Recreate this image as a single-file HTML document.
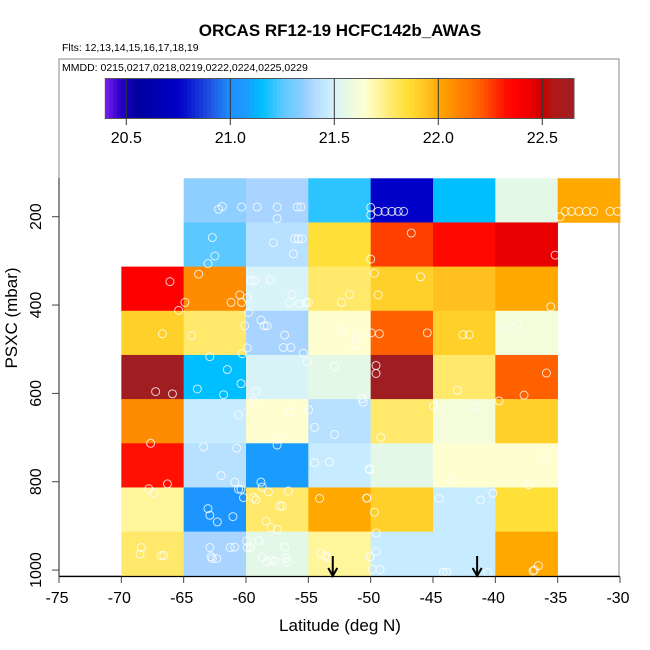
<!DOCTYPE html>
<html><head><meta charset="utf-8"><style>
html,body{margin:0;padding:0;background:#fff}
svg{display:block;font-family:"Liberation Sans",Arial,sans-serif}
</style></head><body>
<svg id="chart" width="650" height="650" viewBox="0 0 650 650" xmlns="http://www.w3.org/2000/svg">
<text x="340" y="36" text-anchor="middle" font-size="17" font-weight="bold">ORCAS RF12-19 HCFC142b_AWAS</text>
<text x="62" y="51" font-size="10.5">Flts: 12,13,14,15,16,17,18,19</text>
<rect x="59" y="59" width="560" height="517" fill="none" stroke="#888" stroke-width="1"/>
<text x="62" y="71" font-size="10.5">MMDD: 0215,0217,0218,0219,0222,0224,0225,0229</text>
<g id="colorbar"></g>
<g id="cells"></g>
<g id="points"></g>
<g id="arrows"></g>
<g id="axes"></g>
<text x="340" y="631" text-anchor="middle" font-size="17">Latitude (deg N)</text>
<text transform="translate(17,318) rotate(-90)" text-anchor="middle" font-size="17">PSXC (mbar)</text>
</svg>
<script>
const latEdges = [-70,-65,-60,-55,-50,-45,-40,-35,-30];
const presTops = [113,213,313,413,513,613,713,813,913];
const cellValues = [
 [null,21.35,21.38,21.2,20.75,21.15,21.55,22.0],
 [null,21.25,21.42,21.85,22.25,22.35,22.45,null],
 [22.38,22.08,21.5,21.78,21.9,21.95,22.0,null],
 [21.9,21.78,21.38,21.65,22.2,21.9,21.6,null],
 [22.65,21.15,21.5,21.55,22.65,21.78,22.2,null],
 [22.08,21.47,21.65,21.42,21.78,21.6,21.9,null],
 [22.32,21.42,21.08,21.47,21.55,21.65,21.65,null],
 [21.72,21.03,21.78,22.0,21.9,21.47,21.85,null],
 [21.78,21.38,21.55,21.72,21.47,21.47,22.0,null]
];
const pointLat = [-62.2,-61.9,-60.35,-59.1,-57.5,-55.9,-55.6,-57.5,-62.7,-62.5,-63.05,-57.8,-56.1,-55.8,-55.5,-56.2,-66.1,-63.8,-64.9,-65.4,-60.5,-61.2,-60.35,-59.9,-59.6,-59.3,-58.05,-56.3,-56.5,-55.7,-55.2,-55.0,-51.7,-52.35,-59.8,-58.8,-58.55,-58.3,-60.1,-56.9,-57.0,-56.4,-59.9,-64.36,-66.7,-52.35,-51.15,-51.2,-55.4,-55.1,-60.3,-62.9,-61.5,-60.4,-63.9,-61.8,-67.25,-65.9,-59.2,-59.4,-52.9,-50.7,-50.6,-60.6,-56.5,-54.97,-54.5,-52.9,-57.5,-57.5,-63.4,-60.75,-67.65,-62.0,-60.9,-66.3,-67.8,-67.4,-58.8,-58.7,-60.6,-60.4,-58.2,-56.6,-60.2,-59.4,-59.2,-54.5,-53.3,-54.1,-50.3,-63.05,-62.9,-62.3,-61.05,-58.4,-58.0,-57.5,-57.3,-57.1,-59.95,-58.96,-56.9,-62.9,-61.26,-60.9,-59.9,-59.65,-68.4,-68.5,-66.8,-66.6,-62.8,-62.7,-62.35,-58.7,-58.3,-58.0,-57.7,-56.8,-56.7,-54.0,-53.66,-53.45,-50.1,-50.05,
-50.0,-49.4,-48.85,-48.3,-47.78,-47.35,-50.0,-46.74,-50.0,-49.7,-46.0,-49.4,-35.56,-49.95,-49.3,-45.46,-42.6,-42.1,-39.25,-38.2,-49.57,-49.57,-35.9,-37.7,-43.05,-44.95,-41.6,-39.7,-49.2,-50.08,-36.18,-37.33,-43.48,-44.5,-41.2,-40.2,-50.32,-49.7,-49.55,-49.57,-50.05,-49.87,-49.25,-44.17,-43.88,-40.6,-36.98,-36.55,-36.87,-34.4,-33.9,-33.3,-32.7,-32.1,-30.8,-30.2,-34.8,-35.2];
const pointPres = [183,177,178,178,178,178,178,204,247,289,306,259,250,250,250,284,347,330,394,412,377,394,394,384,345,345,343,376,394,397,394,394,376,394,417,434,447,447,447,468,496,496,497,469,465,459,472,490,509,528,510,517,546,578,590,603,596,601,595,617,539,612,620,649,642,637,677,693,704,717,721,724,713,786,801,805,816,826,801,812,817,817,823,821,836,836,841,757,755,838,837,861,876,891,879,889,904,908,855,855,934,933,948,949,949,948,949,949,949,964,967,967,970,974,974,971,981,978,980,973,982,962,968,971,771,970,
179,188,188,188,188,188,196,237,296,328,336,377,404,463,465,463,467,467,453,444,537,555,554,604,593,629,631,617,700,773,747,807,796,838,841,826,837,869,916,958,970,998,999,1005,1005,1005,1002,990,1000,188,188,188,188,188,188,188,200,287];
const arrowLat = [-53.04,-41.46];
const xTicks = [-75,-70,-65,-60,-55,-50,-45,-40,-35,-30];
const yTicks = [200,400,600,800,1000];
const cbTicks = [20.5,21.0,21.5,22.0,22.5];
const cmapVals = [20.399,20.47,20.55,20.75,20.9,21.0,21.08,21.15,21.2,21.25,21.35,21.38,21.42,21.47,21.5,21.55,21.6,21.65,21.72,21.78,21.85,21.9,21.95,22.0,22.08,22.2,22.25,22.32,22.38,22.45,22.5,22.55,22.652];
const cmapCols = ["#7a1ff0","#2800c8","#00009c","#0000c8","#2050e0","#1e90ff","#1a9cff","#00bfff","#2cc4ff","#5bc8ff","#8fcfff","#a8d4ff","#b8e0ff","#c8ecff","#d8f4f8","#e4f8e8","#f4fcdc","#fefed0","#fff59a","#ffe86a","#ffe038","#ffd02a","#ffc020","#ffa800","#ff8c00","#ff6000","#ff4000","#ff1000","#ff0000","#e80000","#c80000","#b01818","#a01e22"];

const NS="http://www.w3.org/2000/svg";
const xS = v => 59 + (v + 75) * 561/45;
const yS = p => 216.7 + (p - 200) * 0.4417;
const cbS = v => 126.3 + (v - 20.5) * 208;
function hex(c){return [1,3,5].map(i=>parseInt(c.substr(i,2),16));}
function cmap(v){
  if(v<=cmapVals[0]) return cmapCols[0];
  for(let i=1;i<cmapVals.length;i++){
    if(v<=cmapVals[i]){
      const t=(v-cmapVals[i-1])/(cmapVals[i]-cmapVals[i-1]);
      const a=hex(cmapCols[i-1]),b=hex(cmapCols[i]);
      return "rgb("+a.map((x,k)=>Math.round(x+(b[k]-x)*t)).join(",")+")";
    }
  }
  return cmapCols[cmapCols.length-1];
}
function mk(tag,attrs,parent){const e=document.createElementNS(NS,tag);for(const k in attrs)e.setAttribute(k,attrs[k]);parent.appendChild(e);return e;}

// colorbar
const cb=document.getElementById('colorbar');
const vmin=cmapVals[0], vmax=cmapVals[cmapVals.length-1];
for(let i=0;i<120;i++){
  const v0=vmin+(vmax-vmin)*i/120, v1=vmin+(vmax-vmin)*(i+1)/120;
  const r=mk('rect',{x:cbS(v0),y:78.5,width:cbS(v1)-cbS(v0)+0.6,height:40,fill:cmap((v0+v1)/2)},cb);
  
  
}
const cbr=mk('rect',{x:cbS(vmin),y:78.5,width:cbS(vmax)-cbS(vmin),height:40,fill:'none',stroke:'#555','stroke-width':1},cb);


cbTicks.forEach(t=>{
  const l=mk('line',{x1:cbS(t),x2:cbS(t),y1:78.5,y2:125,stroke:'#333','stroke-width':1},cb);
  
  
  const tx=mk('text',{x:cbS(t),y:143,'text-anchor':'middle','font-size':16},cb);
  
  
  tx.textContent=t.toFixed(1);
});

// cells
const cg=document.getElementById('cells');
cellValues.forEach((row,r)=>{
  row.forEach((v,c)=>{
    if(v===null) return;
    const x0=xS(latEdges[c]), x1=xS(latEdges[c+1]);
    const y0=yS(presTops[r]), y1=yS(presTops[r]+100);
    const rc=mk('rect',{x:x0,y:y0,width:x1-x0+0.3,height:y1-y0+0.3,fill:cmap(v)},cg);
    
    
  });
});

// points
const pg=document.getElementById('points');
pointLat.forEach((la,i)=>{
  const c=mk('circle',{cx:xS(la),cy:yS(pointPres[i]),r:4,fill:'none',stroke:'rgba(255,255,255,0.8)','stroke-width':1},pg);
  
  
});

// arrows
const ag=document.getElementById('arrows');
arrowLat.forEach(la=>{
  const x=xS(la);
  const g=mk('g',{},ag);
  
  
  mk('line',{x1:x,x2:x,y1:556,y2:575,stroke:'#000','stroke-width':2},g);
  mk('path',{d:`M${x-4.5},${568} L${x},${576} L${x+4.5},${568}`,fill:'none',stroke:'#000','stroke-width':2},g);
});

// axes
const ax=document.getElementById('axes');
const xl=mk('line',{x1:59,x2:620,y1:576.5,y2:576.5,stroke:'#000','stroke-width':1.2},ax);


const yl=mk('line',{x1:59,x2:59,y1:178,y2:576.5,stroke:'#444','stroke-width':1.2},ax);


xTicks.forEach(t=>{
  const l=mk('line',{x1:xS(t),x2:xS(t),y1:576.5,y2:583,stroke:'#444','stroke-width':1},ax);
  
  
  const tx=mk('text',{x:xS(t)-2,y:603,'text-anchor':'middle','font-size':16},ax);
  
  
  tx.textContent=String(t);
});
yTicks.forEach(t=>{
  const y=yS(t);
  const l=mk('line',{x1:52,x2:59,y1:y,y2:y,stroke:'#444','stroke-width':1},ax);
  
  
  const tx=mk('text',{transform:`translate(41,${y}) rotate(-90)`,'text-anchor':'middle','font-size':16},ax);
  
  
  tx.textContent=String(t);
});
</script>
</body></html>
